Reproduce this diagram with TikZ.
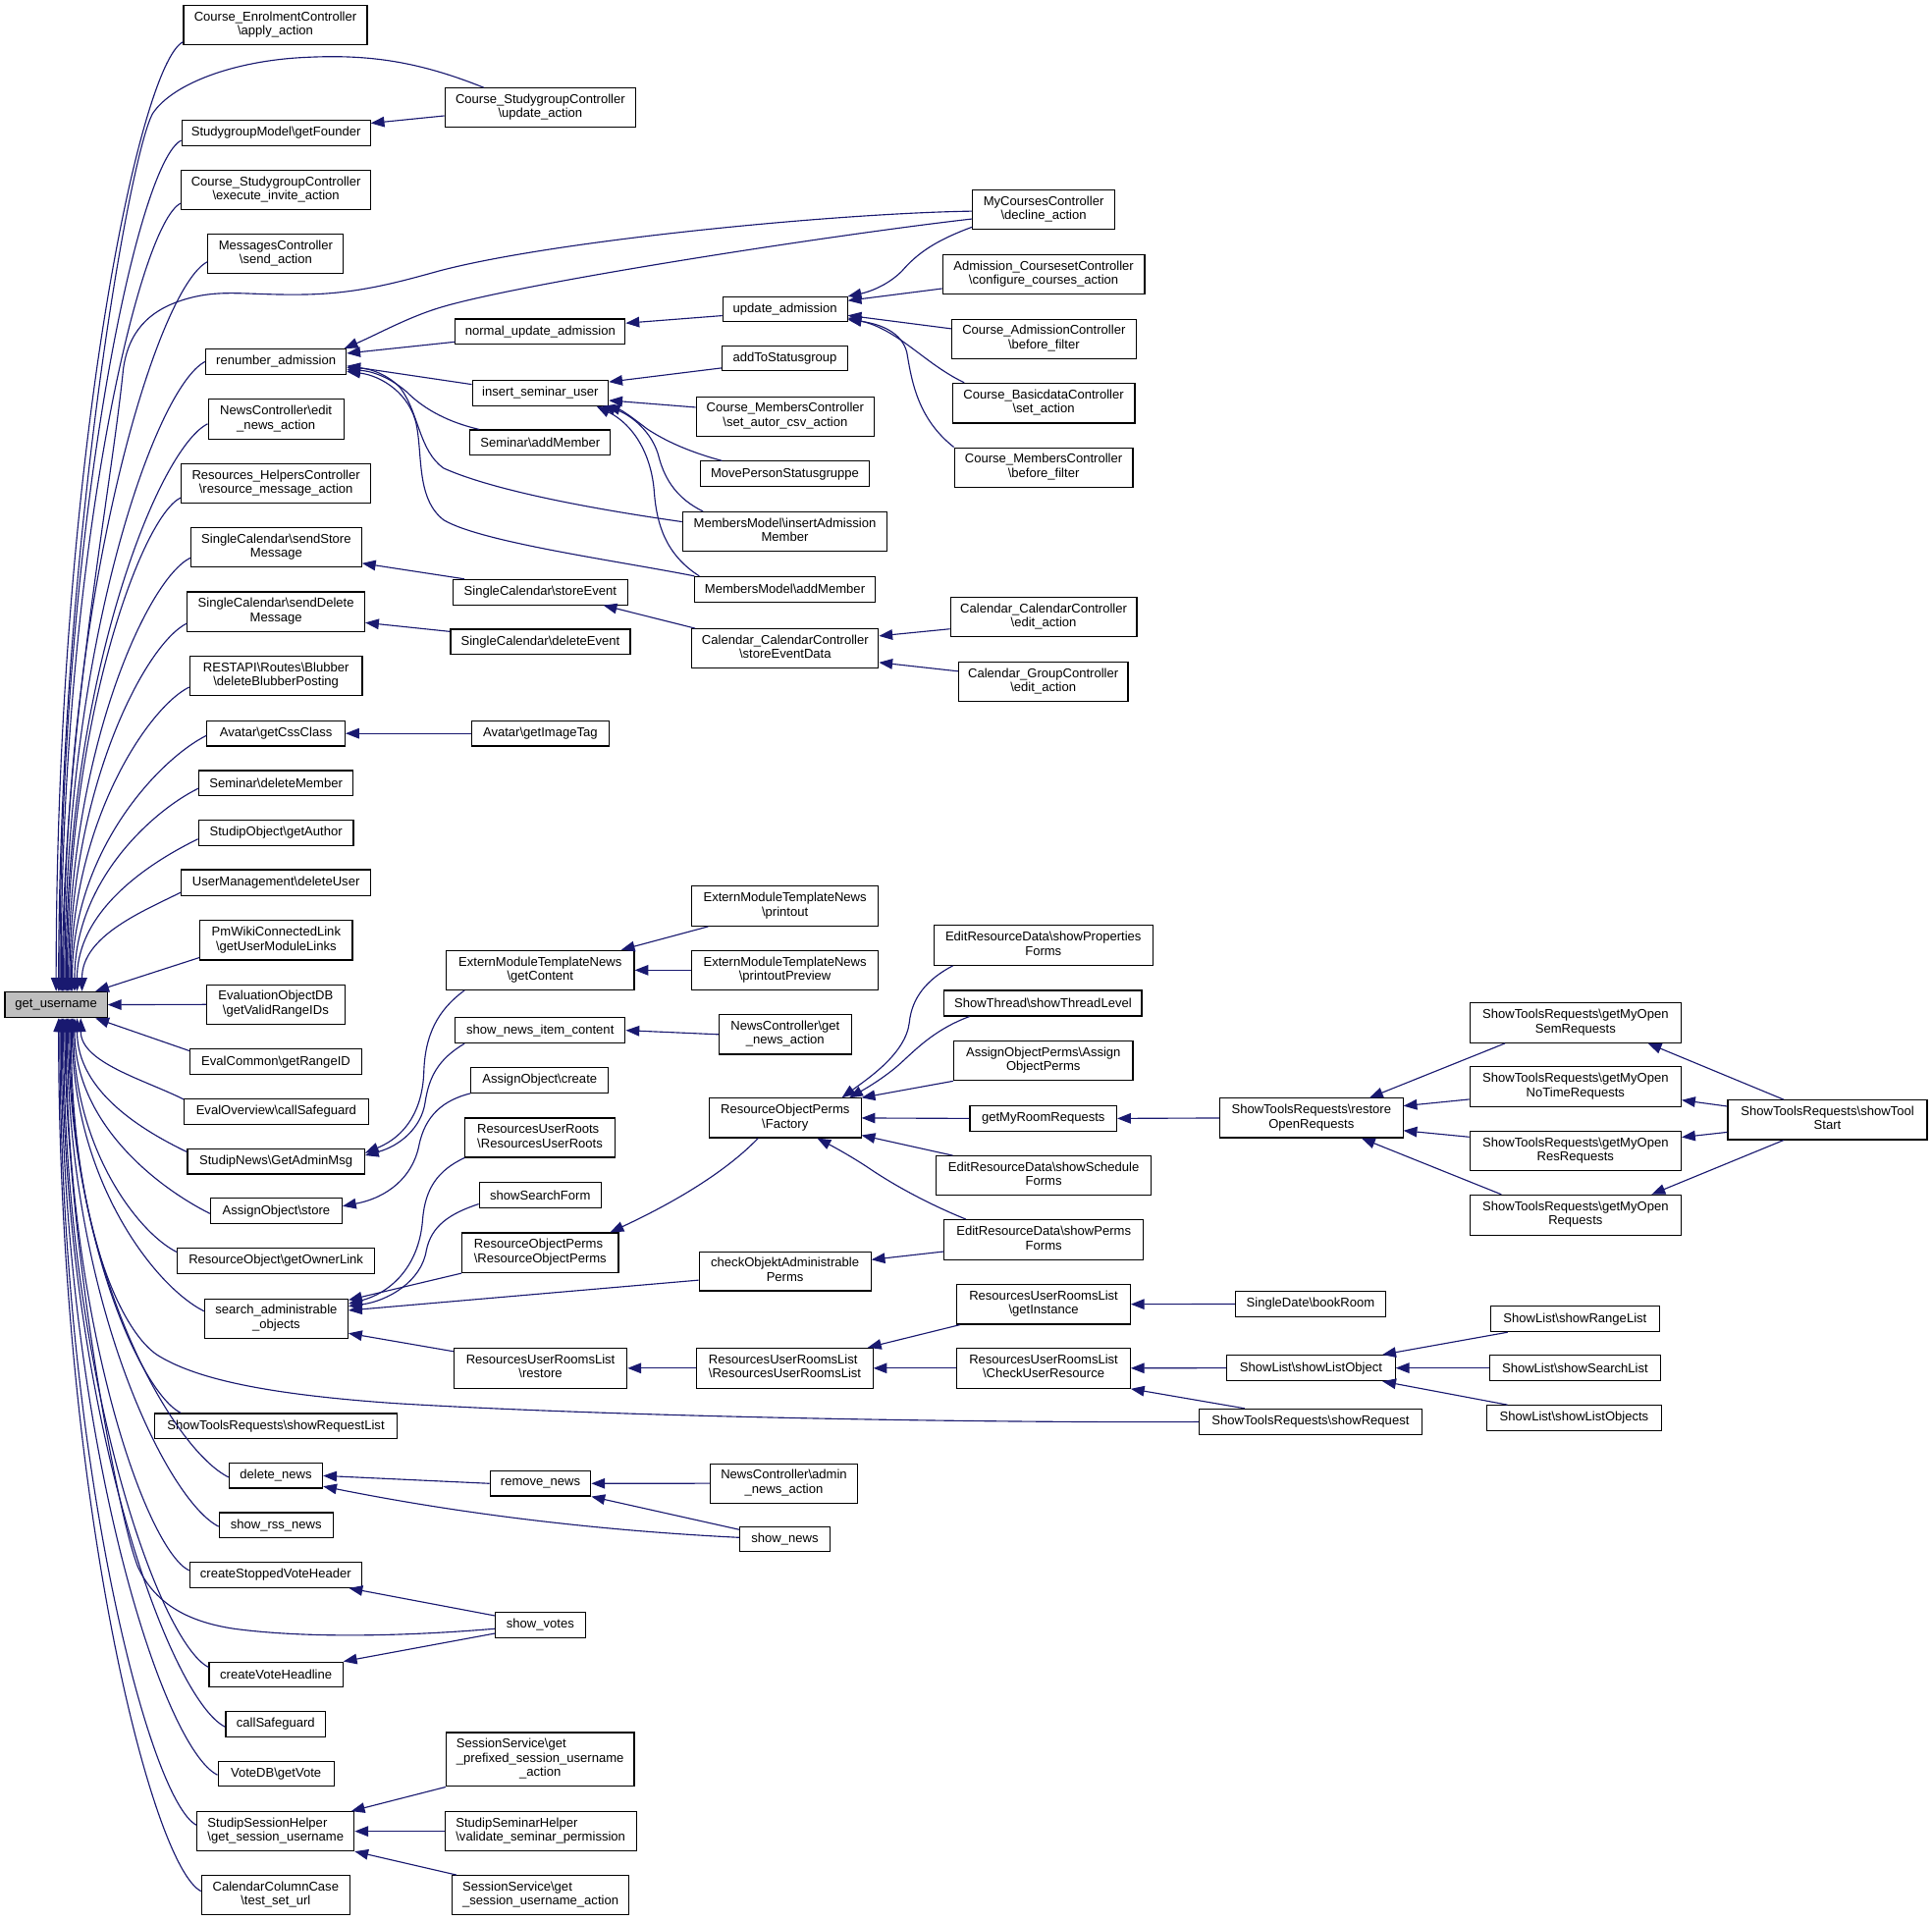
\documentclass[tikz,border=0pt]{standalone}
\usepackage{fontspec}
\setmainfont{Liberation Sans}
\usetikzlibrary{arrows.meta}
\definecolor{edgec}{HTML}{191970}
\definecolor{rootfill}{HTML}{BFBFBF}
\newcommand\bsl{\textbackslash}
\newcommand\twoln[2]{\begin{tabular}{@{}l@{}}#1\\\multicolumn{1}{@{}c@{}}{#2}\end{tabular}}
\newcommand\threeln[3]{\begin{tabular}{@{}l@{}}#1\\#2\\\multicolumn{1}{@{}c@{}}{#3}\end{tabular}}
\newcommand\gnode[6]{\node[fnbox,minimum width=#4*0.5pt,minimum height=#5*0.5pt] (#1) at (#2,#3) {#6};}
\tikzset{
  fnbox/.style={draw=black, line width=0.45pt, fill=white, inner sep=0pt,
    font=\fontsize{5.2}{5.75}\selectfont},
  cedge/.style={draw=edgec, line width=0.45pt, -{Triangle[length=5.5pt,width=4.2pt]}}
}
\begin{document}
\begin{tikzpicture}[x=0.5pt,y=-0.5pt]
\fill[white] (0,0) rectangle (1568,1559);
\path[use as bounding box] (0,0) rectangle (1568,1559);
% root
\node[fnbox,fill=rootfill,minimum width=83*0.5pt,minimum height=21*0.5pt] (g) at (45.5,815.5) {get\_username};
% column 2
\gnode{ce}{223.5}{20.5}{149}{32}{\twoln{Course\_EnrolmentController}{\bsl apply\_action}}
\gnode{gf}{224}{108}{153}{20.5}{StudygroupModel\bsl getFounder}
\gnode{ex}{224}{154.25}{154}{32}{\twoln{Course\_StudygroupController}{\bsl execute\_invite\_action}}
\gnode{ms}{223.8}{206}{110}{32}{\twoln{MessagesController}{\bsl send\_action}}
\gnode{ra}{224}{293.5}{114}{20.5}{renumber\_admission}
\gnode{ne}{224}{340.2}{110}{32}{\twoln{NewsController\bsl edit}{\_news\_action}}
\gnode{rh}{224}{392.4}{154}{32}{\twoln{Resources\_HelpersController}{\bsl resource\_message\_action}}
\gnode{ss}{224.2}{444.2}{138.5}{32}{\twoln{SingleCalendar\bsl sendStore}{Message}}
\gnode{sd}{224}{496.4}{144}{32}{\twoln{SingleCalendar\bsl sendDelete}{Message}}
\gnode{rb}{224}{548.5}{140}{32}{\twoln{RESTAPI\bsl Routes\bsl Blubber}{\bsl deleteBlubberPosting}}
\gnode{ac}{224}{595.3}{112}{20.5}{Avatar\bsl getCssClass}
\gnode{dm}{224}{635.7}{125}{20.5}{Seminar\bsl deleteMember}
\gnode{ga}{224}{676}{125.7}{20.5}{StudipObject\bsl getAuthor}
\gnode{du}{224}{716.4}{154}{21}{UserManagement\bsl deleteUser}
\gnode{pw}{224.2}{763.2}{123.6}{32}{\twoln{PmWikiConnectedLink}{\bsl getUserModuleLinks}}
\gnode{ev}{223.8}{815.3}{112}{32}{\twoln{EvaluationObjectDB}{\bsl getValidRangeIDs}}
\gnode{ec}{223.9}{862}{139}{20.7}{EvalCommon\bsl getRangeID}
\gnode{eo}{224.2}{902.3}{149.3}{21}{EvalOverview\bsl callSafeguard}
\gnode{sn}{224}{942.8}{143.7}{20.2}{StudipNews\bsl GetAdminMsg}
\gnode{as}{224.2}{983}{106.8}{20.5}{AssignObject\bsl store}
\gnode{ro}{224}{1023.3}{160}{20.6}{ResourceObject\bsl getOwnerLink}
\gnode{sa}{224.2}{1070.2}{116.4}{32}{\twoln{search\_administrable}{\_objects}}
\gnode{srl}{223.9}{1157.5}{197.4}{20.4}{ShowToolsRequests\bsl showRequestList}
\gnode{dn}{223.9}{1197.8}{75.8}{20.2}{delete\_news}
\gnode{rss}{224.1}{1238}{92.4}{20.4}{show\_rss\_news}
\gnode{csv}{223.75}{1278.35}{139.5}{20.5}{createStoppedVoteHeader}
\gnode{cvh}{224}{1359.25}{108.5}{20.5}{createVoteHeadline}
\gnode{cs}{223.75}{1399.3}{81}{20.6}{callSafeguard}
\gnode{vd}{224}{1439.8}{94}{20.4}{VoteDB\bsl getVote}
\gnode{ssh}{223.7}{1486.4}{127.4}{31.8}{\twoln{StudipSessionHelper}{\bsl get\_session\_username}}
\gnode{ccc}{223.75}{1538.2}{120.3}{31.8}{\twoln{CalendarColumnCase}{\bsl test\_set\_url}}
% column 3
\gnode{ua}{438.5}{87.5}{155}{32}{\twoln{Course\_StudygroupController}{\bsl update\_action}}
\gnode{nua}{438.5}{269.1}{137.8}{20.4}{normal\_update\_admission}
\gnode{isu}{438.5}{319}{110.4}{20.5}{insert\_seminar\_user}
\gnode{sam}{438.5}{359.3}{114}{20.6}{Seminar\bsl addMember}
\gnode{se}{438.5}{480.6}{141.5}{20.5}{SingleCalendar\bsl storeEvent}
\gnode{sde}{438.6}{521}{145.8}{20.5}{SingleCalendar\bsl deleteEvent}
\gnode{ait}{438.5}{595.3}{111.7}{20.5}{Avatar\bsl getImageTag}
\gnode{gc}{438.45}{787.45}{152.5}{32}{\twoln{ExternModuleTemplateNews}{\bsl getContent}}
\gnode{snic}{438.45}{836.3}{138}{20.6}{show\_news\_item\_content}
\gnode{aoc}{438}{876.8}{111.5}{20.4}{AssignObject\bsl create}
\gnode{rur}{438.25}{923.4}{121.5}{31.8}{\twoln{ResourcesUserRoots}{\bsl ResourcesUserRoots}}
\gnode{ssf}{438.45}{970.25}{99}{20.5}{showSearchForm}
\gnode{ropr}{438.45}{1016.85}{127}{32.3}{\twoln{ResourceObjectPerms}{\bsl ResourceObjectPerms}}
\gnode{rurlr}{438.65}{1110.5}{140.5}{32.6}{\twoln{ResourcesUserRoomsList}{\bsl restore}}
\gnode{rn}{438.65}{1204.1}{81.7}{20.3}{remove\_news}
\gnode{sv}{438.5}{1319}{73}{20.4}{show\_votes}
\gnode{ssp}{438.4}{1428.1}{152.6}{43.8}{\threeln{SessionService\bsl get}{\_prefixed\_session\_username}{\_action}}
\gnode{ssv}{438.75}{1486.4}{155.5}{31.8}{\twoln{StudipSeminarHelper}{\bsl validate\_seminar\_permission}}
\gnode{ssg}{438.7}{1538.2}{143.4}{31.8}{\twoln{SessionService\bsl get}{\_session\_username\_action}}
% column 4
\gnode{upa}{637.15}{251}{101}{20}{update\_admission}
\gnode{ats}{637}{291}{102}{20}{addToStatusgroup}
\gnode{cmc}{637.3}{338}{144.6}{32}{\twoln{Course\_MembersController}{\bsl set\_autor\_csv\_action}}
\gnode{mps}{637}{384.7}{137.2}{20.6}{MovePersonStatusgruppe}
\gnode{mia}{637}{431.5}{166}{32}{\twoln{MembersModel\bsl insertAdmission}{Member}}
\gnode{mam}{637}{478.3}{146}{20.6}{MembersModel\bsl addMember}
\gnode{sed}{637.25}{526.5}{151.3}{32}{\twoln{Calendar\_CalendarController}{\bsl storeEventData}}
\gnode{pr}{637.1}{735.4}{151.8}{32.4}{\twoln{ExternModuleTemplateNews}{\bsl printout}}
\gnode{pp}{637.1}{787.45}{151.8}{32}{\twoln{ExternModuleTemplateNews}{\bsl printoutPreview}}
\gnode{gna}{637.25}{839.6}{107.5}{32.2}{\twoln{NewsController\bsl get}{\_news\_action}}
\gnode{fac}{637.2}{907.45}{123.2}{32}{\twoln{ResourceObjectPerms}{\bsl Factory}}
\gnode{cap}{637.1}{1031.85}{139.4}{31.7}{\twoln{checkObjektAdministrable}{Perms}}
\gnode{rurl}{637}{1110.5}{142.8}{32.6}{\twoln{ResourcesUserRoomsList}{\bsl ResourcesUserRoomsList}}
\gnode{ana}{636.2}{1204}{119.6}{32}{\twoln{NewsController\bsl admin}{\_news\_action}}
\gnode{snw}{637}{1249.55}{73}{20}{show\_news}
% column 5
\gnode{mc}{847}{170.3}{115.4}{32}{\twoln{MyCoursesController}{\bsl decline\_action}}
\gnode{acc}{847}{222.65}{164}{31.7}{\twoln{Admission\_CoursesetController}{\bsl configure\_courses\_action}}
\gnode{cab}{847.2}{275.1}{149.6}{32}{\twoln{Course\_AdmissionController}{\bsl before\_filter}}
\gnode{cbs}{847}{327.2}{148}{32.4}{\twoln{Course\_BasicdataController}{\bsl set\_action}}
\gnode{cmb}{847}{379.4}{144.8}{32}{\twoln{Course\_MembersController}{\bsl before\_filter}}
\gnode{cce}{847}{500.9}{151.2}{32.2}{\twoln{Calendar\_CalendarController}{\bsl edit\_action}}
\gnode{cge}{846.7}{553.4}{137.6}{31.4}{\twoln{Calendar\_GroupController}{\bsl edit\_action}}
\gnode{epf}{846.75}{767.2}{177.9}{32.4}{\twoln{EditResourceData\bsl showProperties}{Forms}}
\gnode{stl}{846.45}{814.25}{160.3}{20.7}{ShowThread\bsl showThreadLevel}
\gnode{aop}{846.75}{861}{145.3}{32}{\twoln{AssignObjectPerms\bsl Assign}{ObjectPerms}}
\gnode{gmr}{846.75}{907.8}{119.1}{20.4}{getMyRoomRequests}
\gnode{esf}{847}{954.25}{174.7}{31.9}{\twoln{EditResourceData\bsl showSchedule}{Forms}}
\gnode{epm}{847.1}{1006.25}{161.6}{32.5}{\twoln{EditResourceData\bsl showPerms}{Forms}}
\gnode{gi}{847}{1058.6}{140.6}{32.4}{\twoln{ResourcesUserRoomsList}{\bsl getInstance}}
\gnode{cur}{847}{1110.5}{140.6}{32.6}{\twoln{ResourcesUserRoomsList}{\bsl CheckUserResource}}
% column 6
\gnode{ror}{1064.3}{907.45}{148.6}{32}{\twoln{ShowToolsRequests\bsl restore}{OpenRequests}}
\gnode{br}{1063.65}{1058.45}{121.9}{20.5}{SingleDate\bsl bookRoom}
\gnode{slo}{1064}{1110.35}{136.6}{20.7}{ShowList\bsl showListObject}
\gnode{srq}{1063.6}{1154.1}{180.8}{21}{ShowToolsRequests\bsl showRequest}
% column 7
\gnode{gos}{1278.65}{830.2}{171.5}{32.4}{\twoln{ShowToolsRequests\bsl getMyOpen}{SemRequests}}
\gnode{gon}{1278.65}{882}{171.5}{32.4}{\twoln{ShowToolsRequests\bsl getMyOpen}{NoTimeRequests}}
\gnode{gor}{1278.65}{934.05}{171.5}{32}{\twoln{ShowToolsRequests\bsl getMyOpen}{ResRequests}}
\gnode{gorq}{1278.65}{986.2}{171.5}{32.6}{\twoln{ShowToolsRequests\bsl getMyOpen}{Requests}}
\gnode{srg}{1278.3}{1070.55}{136.6}{20.7}{ShowList\bsl showRangeList}
\gnode{ssl}{1278.3}{1110.35}{138.2}{20.7}{ShowList\bsl showSearchList}
\gnode{slos}{1277.55}{1150.9}{141.3}{20.4}{ShowList\bsl showListObjects}
% column 8
\gnode{sts}{1483.15}{908.95}{161.7}{32.1}{\twoln{ShowToolsRequests\bsl showTool}{Start}}

% ---- edges into get_username (upper)
\draw[cedge] ([yshift=-6.75pt]ce.west) .. controls +(-36,18) and +(0,-424) .. ([xshift=21pt]g.north west);
\draw[cedge] ([xshift=16pt]ua.north west) .. controls (340,50) and (300,44) .. (249,46.5) .. controls (190,49) and (140,68) .. (124,92) .. controls (105,125) and (48,450) .. ([xshift=22pt]g.north west);
\draw[cedge] ([yshift=-3pt]gf.west) .. controls +(-35,17) and +(0,-380) .. ([xshift=22.5pt]g.north west);
\draw[cedge] ([yshift=-5.4pt]ex.west) .. controls +(-34,17) and +(0,-352) .. ([xshift=23pt]g.north west);
\draw[cedge] ([yshift=-0.55pt]mc.west) .. controls (680,173) and (450,195) .. (356,220) .. controls (320,230) and (290,238) .. (249,239) .. controls (200,240) and (180,234) .. (150,243) .. controls (120,252) and (104,270) .. (100,300) .. controls (90,400) and (51,600) .. ([xshift=23.5pt]g.north west);
\draw[cedge] ([yshift=-3.25pt]ms.west) .. controls +(-40,20) and +(0,-326) .. ([xshift=24pt]g.north west);
\draw[cedge] (ra.west) .. controls +(-40,20) and +(0,-281) .. ([xshift=24.5pt]g.north west);
\draw[cedge] ([yshift=-1.9pt]ne.west) .. controls +(-40,20) and +(0,-254) .. ([xshift=25pt]g.north west);
\draw[cedge] ([yshift=-5.8pt]rh.west) .. controls +(-32,16) and +(0,-220) .. ([xshift=25.5pt]g.north west);
\draw[cedge] ([yshift=-4.3pt]ss.west) .. controls +(-35,17) and +(0,-194) .. ([xshift=26pt]g.north west);
\draw[cedge] ([yshift=-4.8pt]sd.west) .. controls +(-34,17) and +(0,-164) .. ([xshift=26.5pt]g.north west);
\draw[cedge] ([yshift=-4.6pt]rb.west) .. controls +(-34,17) and +(0,-136) .. ([xshift=27pt]g.north west);
\draw[cedge] ([yshift=-0.85pt]ac.west) .. controls +(-38,19) and +(0,-114) .. ([xshift=27.5pt]g.north west);
\draw[cedge] ([yshift=-2.1pt]dm.west) .. controls +(-35,17) and +(0,-91) .. ([xshift=28.5pt]g.north west);
\draw[cedge] ([yshift=-2.5pt]ga.west) .. controls +(-35,17) and +(0,-68) .. ([xshift=29.5pt]g.north west);
\draw[cedge] ([yshift=-4pt]du.west) .. controls +(-30,15) and +(0,-45) .. ([xshift=31.5pt]g.north west);
\draw[cedge] ([yshift=-7pt]pw.west) -- ([xshift=-5pt]g.north east);
\draw[cedge] (ev.west) -- (g.east);
% ---- edges into get_username (lower)
\draw[cedge] ([yshift=4.5pt]ec.west) -- ([xshift=-5pt]g.south east);
\draw[cedge] ([yshift=5pt]eo.west) .. controls +(-32,-16) and +(0,36) .. ([xshift=31pt]g.south west);
\draw[cedge] ([yshift=3.9pt]sn.west) .. controls +(-35,-17) and +(0,60) .. ([xshift=29.5pt]g.south west);
\draw[cedge] ([yshift=-1pt]as.west) .. controls +(-40,-20) and +(0,87) .. ([xshift=28.5pt]g.south west);
\draw[cedge] ([yshift=3.5pt]ro.west) .. controls +(-32,-16) and +(0,105) .. ([xshift=28pt]g.south west);
\draw[cedge] ([yshift=3pt]sa.west) .. controls +(-40,-20) and +(0,131) .. ([xshift=27.5pt]g.south west);
\draw[cedge] (srq.west) .. controls (800,1155) and (500,1150) .. (320,1139) .. controls (220,1132) and (160,1120) .. (128,1100) .. controls (100,1082) and (58,1000) .. ([xshift=27pt]g.south west);
\draw[cedge] ([xshift=11pt]srl.north west) .. controls +(-32,-16) and +(0,177) .. ([xshift=26.5pt]g.south west);
\draw[cedge] ([yshift=-0.6pt]dn.west) .. controls +(-45,-22) and +(0,205) .. ([xshift=26pt]g.south west);
\draw[cedge] ([yshift=-0.5pt]rss.west) .. controls +(-42,-21) and +(0,227) .. ([xshift=25.5pt]g.south west);
\draw[cedge] ([yshift=1.8pt]csv.west) .. controls +(-35,-17) and +(0,247) .. ([xshift=25pt]g.south west);
\draw[cedge] ([yshift=-1.5pt]sv.west) .. controls (330,1328) and (250,1330) .. (190,1322) .. controls (150,1316) and (125,1300) .. (112,1272) .. controls (95,1230) and (53,1000) .. ([xshift=24.5pt]g.south west);
\draw[cedge] ([yshift=3pt]cvh.west) .. controls +(-40,-20) and +(0,290) .. ([xshift=24pt]g.south west);
\draw[cedge] ([yshift=-1.2pt]cs.west) .. controls +(-45,-22) and +(0,317) .. ([xshift=23.5pt]g.south west);
\draw[cedge] ([yshift=-0.45pt]vd.west) .. controls +(-45,-22) and +(0,338) .. ([xshift=23pt]g.south west);
\draw[cedge] ([yshift=2.5pt]ssh.west) .. controls +(-38,-19) and +(0,360) .. ([xshift=22.5pt]g.south west);
\draw[cedge] ([yshift=1.6pt]ccc.west) .. controls +(-40,-20) and +(0,390) .. ([xshift=22pt]g.south west);

% ---- other edges
\draw[cedge] ([yshift=-3.25pt]ua.west) -- ([yshift=4pt]gf.east);
\draw[cedge] ([yshift=-3.7pt]mc.west) .. controls (680,190) and (420,230) .. (356,250) .. controls (330,258) and (305,272) .. ([xshift=-1pt]ra.north east);
\draw[cedge] ([yshift=-4.2pt]nua.west) -- ([yshift=3.35pt]ra.east);
\draw[cedge] ([yshift=3.5pt]isu.west) -- ([yshift=-1.75pt]ra.east);
\draw[cedge] ([xshift=4pt]sam.north west) .. controls (365,343) and (345,333) .. (330,318) .. controls (315,305) and (300,301) .. ([yshift=-3.3pt]ra.east);
\draw[cedge] ([yshift=4pt]mia.west) .. controls (480,413) and (400,398) .. (360,380) .. controls (340,366) and (340,335) .. (325,315) .. controls (315,304) and (300,299) .. ([yshift=-2.5pt]ra.east);
\draw[cedge] (mam.north west) .. controls (500,455) and (390,440) .. (360,422) .. controls (338,405) and (343,370) .. (338,345) .. controls (333,320) and (310,305) .. ([yshift=-4pt]ra.east);
\draw[cedge] ([yshift=-2.6pt]upa.west) -- ([yshift=3.4pt]nua.east);
\draw[cedge] ([yshift=-7pt]mc.west) .. controls (760,195) and (745,205) .. (732,220) .. controls (720,232) and (705,237) .. (upa.north east);
\draw[cedge] ([yshift=-5.8pt]acc.west) -- ([yshift=3.5pt]upa.east);
\draw[cedge] ([yshift=4.15pt]cab.west) -- ([yshift=-2.5pt]upa.east);
\draw[cedge] ([xshift=5pt]cbs.north west) .. controls (750,295) and (730,268) .. ([yshift=-3.5pt]upa.east);
\draw[cedge] (cmb.north west) .. controls (745,340) and (740,310) .. (736,286) .. controls (732,270) and (715,263) .. ([yshift=-4.2pt]upa.east);
\draw[cedge] ([yshift=-3.85pt]ats.west) -- ([yshift=4.5pt]isu.east);
\draw[cedge] ([yshift=3.7pt]cmc.west) -- ([yshift=-3pt]isu.east);
\draw[cedge] ([xshift=9pt]mps.north west) .. controls (560,367) and (540,358) .. (525,348) .. controls (512,338) and (505,333) .. ([xshift=-1pt]isu.south east);
\draw[cedge] ([xshift=8.5pt]mia.north west) .. controls (550,405) and (540,390) .. (535,372) .. controls (530,350) and (510,335) .. ([xshift=-3pt]isu.south east);
\draw[cedge] ([xshift=2pt]mam.north west) .. controls (540,450) and (533,425) .. (531,400) .. controls (529,370) and (515,345) .. ([xshift=-5pt]isu.south east);
\draw[cedge] ([xshift=4.75pt]se.north west) -- ([yshift=-6.5pt]ss.east);
\draw[cedge] ([yshift=4.2pt]sde.west) -- ([yshift=-4.5pt]sd.east);
\draw[cedge] ([xshift=1.6pt]sed.north west) -- ([xshift=-10pt]se.south east);
\draw[cedge] ([yshift=-4.8pt]cce.west) -- ([yshift=5.15pt]sed.east);
\draw[cedge] ([yshift=4.3pt]cge.west) -- ([yshift=-5.6pt]sed.east);
\draw[cedge] (ait.west) -- (ac.east);
\draw[cedge] ([xshift=7.6pt]gc.south west) .. controls (355,820) and (345,840) .. (344,870) .. controls (343,900) and (330,922) .. ([yshift=3.5pt]sn.east);
\draw[cedge] ([xshift=4pt]snic.south west) .. controls (355,860) and (348,875) .. (345,895) .. controls (342,915) and (325,930) .. ([yshift=2.5pt]sn.east);
\draw[cedge] ([xshift=7pt]pr.south west) -- ([xshift=-5.5pt]gc.north east);
\draw[cedge] (pp.west) -- (gc.east);
\draw[cedge] (gna.west) -- (snic.east);
\draw[cedge] (aoc.south west) .. controls (360,893) and (345,905) .. (340,930) .. controls (335,955) and (315,972) .. ([yshift=2pt]as.east);
\draw[cedge] (rur.south west) .. controls (355,950) and (345,965) .. (343,990) .. controls (340,1030) and (315,1050) .. ([yshift=6pt]sa.east);
\draw[cedge] ([yshift=-3.5pt]ssf.west) .. controls (365,985) and (350,995) .. (346,1015) .. controls (342,1040) and (315,1056) .. ([yshift=5pt]sa.east);
\draw[cedge] (ropr.south west) -- ([yshift=7.5pt]sa.east);
\draw[cedge] ([yshift=-3.6pt]cap.west) -- ([yshift=3.3pt]sa.east);
\draw[cedge] ([yshift=6.8pt]rurlr.west) -- ([yshift=-6pt]sa.east);
\draw[cedge] ([xshift=-11pt]fac.south) .. controls (595,945) and (560,970) .. ([xshift=-3.6pt]ropr.north east);
\draw[cedge] ([xshift=8pt]epf.south west) .. controls (752,795) and (740,810) .. (738,830) .. controls (735,855) and (705,875) .. ([xshift=-8pt]fac.north east);
\draw[cedge] ([xshift=10.5pt]stl.south west) .. controls (760,835) and (745,850) .. (732,862) .. controls (718,875) and (700,885) .. ([xshift=-5pt]fac.north east);
\draw[cedge] (aop.south west) -- (fac.north east);
\draw[cedge] (gmr.west) -- (fac.east);
\draw[cedge] ([xshift=7pt]esf.north west) -- ([yshift=-7pt]fac.east);
\draw[cedge] ([xshift=9pt]epm.north west) .. controls (760,980) and (730,965) .. (705,948) .. controls (690,938) and (675,930) .. ([xshift=-18pt]fac.south east);
\draw[cedge] ([yshift=-4.8pt]epm.west) -- ([yshift=4.7pt]cap.east);
\draw[cedge] (ror.west) -- (gmr.east);
\draw[cedge] ([xshift=14.5pt]gos.south west) -- ([xshift=-13.8pt]ror.north east);
\draw[cedge] ([yshift=-5.15pt]gon.west) -- ([yshift=4.9pt]ror.east);
\draw[cedge] ([yshift=5.6pt]gor.west) -- ([yshift=-5.1pt]ror.east);
\draw[cedge] ([xshift=13pt]gorq.north west) -- ([xshift=-17pt]ror.south east);
\draw[cedge] ([xshift=22.85pt]sts.north west) -- ([xshift=-13.7pt]gos.south east);
\draw[cedge] ([yshift=5.5pt]sts.west) -- ([yshift=-5.45pt]gon.east);
\draw[cedge] ([yshift=-5pt]sts.west) -- ([yshift=5.5pt]gor.east);
\draw[cedge] ([xshift=22.85pt]sts.south west) -- ([xshift=-12.2pt]gorq.north east);
\draw[cedge] ([xshift=1.5pt]gi.south west) -- ([xshift=-2.3pt]rurl.north east);
\draw[cedge] (cur.west) -- (rurl.east);
\draw[cedge] (rurl.west) -- (rurlr.east);
\draw[cedge] (br.west) -- (gi.east);
\draw[cedge] (slo.west) -- (cur.east);
\draw[cedge] ([xshift=18.65pt]srq.north west) -- (cur.south east);
\draw[cedge] ([xshift=7pt]srg.south west) -- ([xshift=-5.4pt]slo.north east);
\draw[cedge] (ssl.west) -- (slo.east);
\draw[cedge] ([xshift=8.5pt]slos.north west) -- ([xshift=-5.4pt]slo.south east);
\draw[cedge] (rn.west) -- (dn.east);
\draw[cedge] ([yshift=0.8pt]snw.west) .. controls (480,1242) and (370,1228) .. ([yshift=-4.3pt]dn.east);
\draw[cedge] (ana.west) -- (rn.east);
\draw[cedge] ([yshift=4pt]snw.west) -- (rn.south east);
\draw[cedge] ([yshift=3.8pt]sv.west) -- ([xshift=-5.35pt]csv.south east);
\draw[cedge] ([yshift=-3.4pt]sv.west) -- (cvh.north east);
\draw[cedge] (ssp.south west) -- ([xshift=-1.4pt]ssh.north east);
\draw[cedge] (ssv.west) -- (ssh.east);
\draw[cedge] ([xshift=2pt]ssg.north west) -- (ssh.south east);
\end{tikzpicture}
\end{document}
